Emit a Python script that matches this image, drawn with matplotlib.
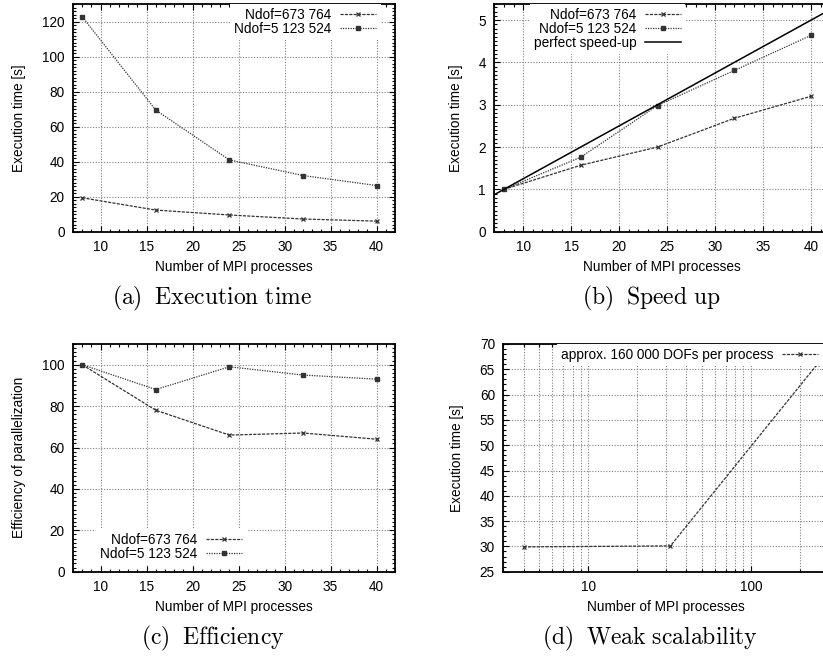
import matplotlib
matplotlib.use("Agg")
import matplotlib.pyplot as plt
from matplotlib.ticker import AutoMinorLocator, FixedLocator, LogLocator, NullFormatter

plt.rcParams['font.family'] = ['Liberation Sans', 'DejaVu Sans']
plt.rcParams['mathtext.fontset'] = 'cm'

# data
procs = [8, 16, 24, 32, 40]
time_small = [19.5, 12.5, 9.7, 7.4, 6.2]
time_large = [122.7, 69.5, 41.1, 32.2, 26.5]
speed_small = [1.0, 1.57, 2.0, 2.68, 3.2]
speed_large = [1.0, 1.76, 2.98, 3.81, 4.64]
eff_small = [100, 78, 66, 67, 64]
eff_large = [100, 88, 99, 95, 93]
weak_procs = [4, 32, 256]
weak_time = [29.9, 30.1, 66.0]

lab_small = 'Ndof=673 764'
lab_large = 'Ndof=5 123 524'
FS = 9.8
W, H = 823, 658

fig = plt.figure(figsize=(W / 100, H / 100), dpi=100)


def box(l, t, r, b):
    return [l / W, 1 - b / H, (r - l) / W, (b - t) / H]


def style(ax, logx=False):
    ax.tick_params(which='both', direction='in', top=True, right=True, labelsize=FS, width=0.8)
    ax.tick_params(which='major', length=4, pad=6)
    ax.tick_params(which='minor', length=2)
    for s in ax.spines.values():
        s.set_linewidth(1.3)
    ax.grid(True, which='major', color='#808080', linestyle=(0, (1, 1.5)), linewidth=0.8)
    if logx:
        ax.grid(True, which='minor', axis='x', color='#808080', linestyle=(0, (1, 1.5)), linewidth=0.8)
    ax.set_xlabel('Number of MPI processes', fontsize=FS, labelpad=4)


def series(ax, x, y, kind, label):
    if kind == 0:
        ax.plot(x, y, color='#333333', linestyle=(0, (2.5, 1)), linewidth=0.9,
                marker='x', markersize=3.5, markeredgewidth=0.9, label=label)
    else:
        ax.plot(x, y, color='#333333', linestyle=(0, (1, 1)), linewidth=0.9,
                marker='s', markersize=3, label=label)


def key(ax, loc, anchor):
    leg = ax.legend(loc=loc, bbox_to_anchor=anchor, markerfirst=False, fontsize=FS,
                    frameon=True, facecolor='white', edgecolor='none', framealpha=1,
                    fancybox=False, borderpad=0.3, labelspacing=0.0, handlelength=2.7,
                    handletextpad=0.6, borderaxespad=0)
    return leg


# (a) execution time
ax = fig.add_axes(box(73, 4, 395, 232))
series(ax, procs, time_small, 0, lab_small)
series(ax, procs, time_large, 1, lab_large)
ax.set_xlim(7, 42)
ax.set_ylim(0, 130)
ax.set_yticks(range(0, 121, 20))
ax.xaxis.set_minor_locator(AutoMinorLocator(5))
ax.yaxis.set_minor_locator(AutoMinorLocator(10))
style(ax)
ax.set_ylabel('Execution time [s]', fontsize=FS, labelpad=12)
key(ax, 'upper right', (0.955, 1.0))

# (b) speed up
ax = fig.add_axes(box(494.3, 4, 830.3, 231.7))
series(ax, procs, speed_small, 0, lab_small)
series(ax, procs, speed_large, 1, lab_large)
ax.axline((procs[0], 1.0), slope=1.0 / procs[0], color='black', linewidth=1.1, label='perfect speed-up')
ax.set_xlim(7, 42)
ax.set_ylim(0, 5.38)
ax.set_yticks(range(0, 6))
ax.xaxis.set_minor_locator(AutoMinorLocator(5))
ax.yaxis.set_minor_locator(AutoMinorLocator(10))
style(ax)
ax.set_ylabel('Execution time [s]', fontsize=FS, labelpad=11)
key(ax, 'upper left', (0.105, 1.0))

# (c) efficiency
ax = fig.add_axes(box(73, 344, 395, 571.7))
series(ax, procs, eff_small, 0, lab_small)
series(ax, procs, eff_large, 1, lab_large)
ax.set_xlim(7, 42)
ax.set_ylim(0, 110)
ax.set_yticks(range(0, 101, 20))
ax.xaxis.set_minor_locator(AutoMinorLocator(5))
ax.yaxis.set_minor_locator(AutoMinorLocator(10))
style(ax)
ax.set_ylabel('Efficiency of parallelization', fontsize=FS, labelpad=12)
key(ax, 'lower left', (0.072, 0.03))

# (d) weak scalability
ax = fig.add_axes(box(503.3, 344, 828.5, 571.7))
ax.plot(weak_procs, weak_time, color='#333333', linestyle=(0, (2.5, 1)), linewidth=0.9,
        marker='x', markersize=3.5, markeredgewidth=0.9, label='approx. 160 000 DOFs per process')
ax.set_xscale('log')
ax.set_xlim(3, 300)
ax.set_ylim(25, 70)
ax.set_yticks(range(25, 71, 5))
ax.xaxis.set_major_locator(FixedLocator([10, 100]))
ax.xaxis.set_major_formatter(matplotlib.ticker.FixedFormatter(['10', '100']))
ax.xaxis.set_minor_locator(LogLocator(base=10, subs=range(2, 10)))
ax.xaxis.set_minor_formatter(NullFormatter())
ax.yaxis.set_minor_locator(AutoMinorLocator(5))
style(ax, logx=True)
ax.set_ylabel('Execution time [s]', fontsize=FS, labelpad=11)
key(ax, 'upper left', (0.165, 1.0))

# captions
caps = [(212.5, 298, r'$\mathrm{(a)\;\ Execution\ time}$'),
        (651, 298, r'$\mathrm{(b)\;\ Speed\ up}$'),
        (212.5, 638, r'$\mathrm{(c)\;\ Efficiency}$'),
        (650, 638, r'$\mathrm{(d)\;\ Weak\ scalability}$')]
for cx, cy, txt in caps:
    fig.text(cx / W, 1 - cy / H, txt, fontsize=17, ha='center', va='center')

fig.savefig('out.png', dpi=100)
